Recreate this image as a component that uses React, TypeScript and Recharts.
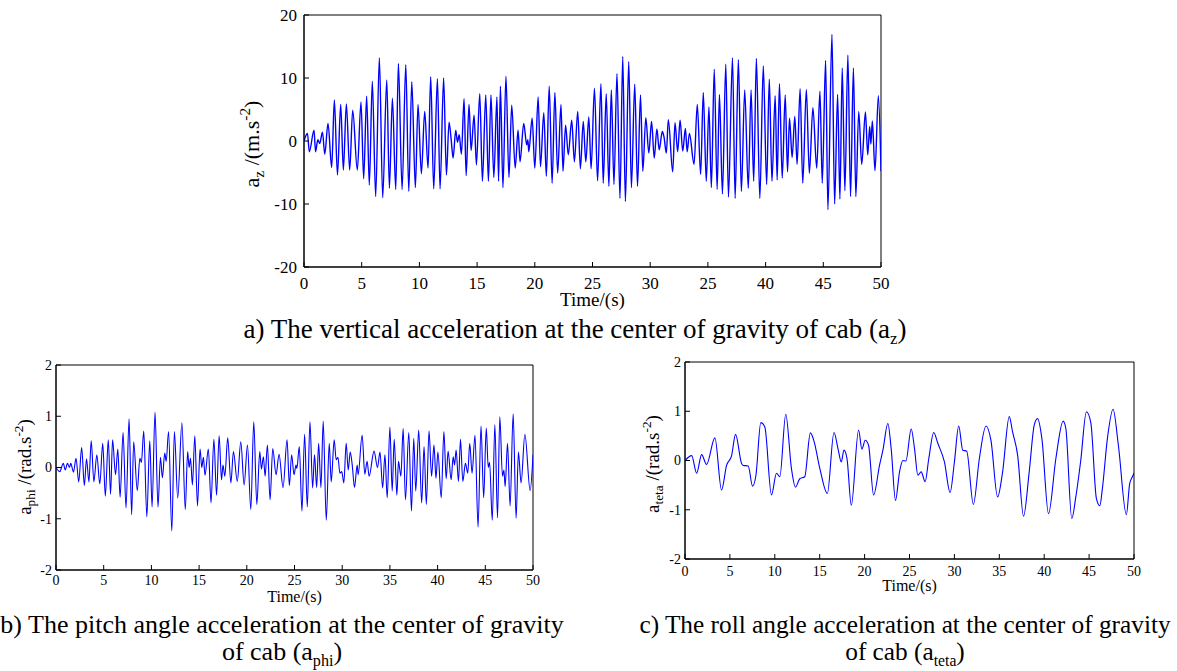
import React from 'react';
import { LineChart, Line, XAxis, YAxis, ReferenceArea } from 'recharts';

const FONT = '"Liberation Serif", "Times New Roman", serif';
// generic family for the svg text of the axes
const SVG_FONT = 'serif';

// time axis, same for the three plots
const timeTicks = [0, 5, 10, 15, 20, 25, 30, 35, 40, 45, 50];
// the original figure prints "25" where 35 should be on the top plot
const azTickLabels = ['0', '5', '10', '15', '20', '25', '30', '25', '40', '45', '50'];
const angTickLabels = ['0', '5', '10', '15', '20', '25', '30', '35', '40', '45', '50'];

const azTicksY = [-20, -10, 0, 10, 20];
const angTicksY = [-2, -1, 0, 1, 2];

// vertical acceleration a_z (m/s2), peaks and troughs
const azSamples: [number, number][] = [
  [0, 0], [0.3, 1.2], [0.46, -1.7], [0.87, 1.7], [1.0, -1.7], [1.2, 0.2], [1.36, -0.4], [1.6, 1.4], [1.8, -2.1],
  [2.08, 2.8], [2.4, -4.2], [2.63, 6.5], [2.9, -5.4], [3.18, 5.8], [3.41, -4.6], [3.67, 5.9], [3.96, -4.6],
  [4.22, 4.9], [4.62, -4.6], [4.94, 6.2], [5.17, -6.0], [5.43, 7.1], [5.66, -7.0], [5.92, 9.5], [6.21, -8.8],
  [6.53, 13.2], [6.82, -9.0], [7.17, 9.7], [7.4, -7.5], [7.66, 6.8], [7.95, -7.7], [8.18, 12.3], [8.5, -7.7],
  [8.82, 12.1], [9.08, -8.0], [9.34, 9.4], [9.65, -7.4], [9.88, 5.8], [10.17, -5.2], [10.46, 4.7], [10.75, -4.3],
  [10.98, 10.2], [11.24, -7.6], [11.56, 9.9], [11.79, -7.6], [12.1, 10.0], [12.34, -5.4], [12.57, 3.0], [12.75, 0.3],
  [12.92, -2.7], [13.15, 1.7], [13.3, -0.2], [13.45, 1.0], [13.64, -2.1], [13.87, 6.7], [14.05, -5.5], [14.3, 5.8],
  [14.48, -1.5], [14.74, 4.1], [14.94, -3.8], [15.23, 7.5], [15.46, -6.4], [15.75, 7.3], [15.98, -6.4], [16.2, 7.3],
  [16.45, -5.8], [16.72, 7.0], [16.86, -6.4], [17.02, 8.7], [17.24, -7.4], [17.5, 10.3], [17.76, -5.8], [18.0, 5.7],
  [18.3, -4.3], [18.55, 1.7], [18.72, -3.3], [19.04, 2.8], [19.3, -0.6], [19.4, 0.2], [19.48, -1.7], [19.77, 3.6],
  [20.0, -4.3], [20.29, 7.0], [20.49, -4.1], [20.78, 4.5], [21.0, -5.6], [21.25, 8.7], [21.5, -6.7], [21.74, 7.7],
  [21.98, -5.1], [22.27, 5.8], [22.44, -4.8], [22.67, 2.5], [22.9, -2.2], [23.2, 3.3], [23.43, -3.3], [23.72, 4.7],
  [23.95, -4.4], [24.2, 3.1], [24.42, -3.3], [24.68, 3.8], [24.88, -4.4], [25.17, 8.4], [25.44, -6.3], [25.73, 9.1],
  [25.93, -6.7], [26.19, 7.5], [26.42, -7.2], [26.63, 8.1], [26.86, -6.9], [27.12, 10.7], [27.38, -9.1], [27.62, 13.4],
  [27.85, -9.6], [28.14, 12.6], [28.37, -7.4], [28.66, 9.0], [28.9, -7.2], [29.16, 7.3], [29.36, -4.8], [29.62, 3.7],
  [29.88, -1.9], [30.12, 3.1], [30.35, -2.7], [30.58, 1.9], [30.78, -1.4], [31.05, 1.5], [31.2, 0.6], [31.4, -1.9],
  [31.57, 3.4], [31.95, -4.9], [32.15, 2.9], [32.38, -1.7], [32.59, 3.3], [32.82, -1.6], [33.05, 2.0], [33.2, -1.7],
  [33.4, 1.2], [33.8, -3.7], [34.08, 5.8], [34.37, -5.3], [34.6, 7.7], [34.86, -6.4], [35.09, 5.4], [35.3, -7.4],
  [35.55, 11.4], [35.8, -7.7], [36.0, 7.4], [36.26, -8.4], [36.55, 12.2], [36.78, -8.9], [37.13, 13.2], [37.36, -9.1],
  [37.64, 12.9], [37.9, -8.0], [38.19, 8.1], [38.5, -7.5], [38.74, 8.1], [38.97, -6.4], [39.2, 13.1], [39.5, -9.1],
  [39.8, 11.9], [40.09, -6.9], [40.32, 9.8], [40.55, -6.4], [40.83, 7.2], [41.0, -6.2], [41.2, 9.1], [41.44, -5.9],
  [41.7, 7.3], [41.9, -4.9], [42.07, 3.6], [42.3, -2.6], [42.53, 3.9], [42.73, -3.7], [42.99, 8.3], [43.22, -6.7],
  [43.53, 8.2], [43.79, -5.1], [44.1, 5.3], [44.43, -4.3], [44.71, 7.9], [44.91, -6.7], [45.2, 12.8], [45.4, -10.9],
  [45.75, 16.9], [45.98, -10.0], [46.24, 7.4], [46.44, -9.2], [46.64, 11.6], [46.87, -7.9], [47.13, 13.6], [47.36, -8.8],
  [47.61, 11.6], [47.82, -8.8], [48.07, 4.7], [48.33, -3.7], [48.65, 4.6], [48.85, -2.2], [49.02, 2.3], [49.12, -0.5],
  [49.25, 3.2], [49.48, -4.7], [49.77, 7.2], [50, -4.8],
];

// pitch angle acceleration a_phi (rad/s2)
const phiSamples: [number, number][] = [
  [0, 0], [0.4, -0.08], [0.76, 0.08], [0.97, -0.05], [1.2, 0.08], [1.41, 0], [1.55, 0.08], [1.83, -0.09],
  [2.1, 0.18], [2.38, -0.28], [2.69, 0.39], [2.97, -0.35], [3.2, 0.17], [3.45, -0.28], [3.69, 0.52], [3.97, -0.28],
  [4.28, 0.25], [4.59, -0.32], [4.9, 0.47], [5.17, -0.56], [5.48, 0.54], [5.72, -0.52], [5.93, 0.54], [6.24, -0.14],
  [6.48, 0.36], [6.72, -0.58], [7.03, 0.68], [7.34, -0.79], [7.66, 0.95], [7.93, -0.92], [8.14, 0.5], [8.52, -0.45],
  [8.79, 0.18], [8.95, 0.1], [9.2, 0.71], [9.52, -0.96], [9.83, 0.52], [10.07, -0.77], [10.38, 1.08], [10.69, -0.77],
  [10.95, 0.2], [11.15, -0.2], [11.4, 0.28], [11.55, 0.12], [11.8, 0.7], [12.14, -1.24], [12.41, 0.7], [12.76, -0.6],
  [13.2, 0.87], [13.55, -0.82], [13.8, 0.31], [13.95, 0], [14.1, 0.18], [14.3, -0.34], [14.55, 0.62], [14.83, -0.75],
  [15.1, 0.36], [15.28, 0], [15.45, 0.2], [15.62, -0.15], [15.97, 0.36], [16.25, -0.69], [16.55, 0.55], [16.83, -0.54],
  [17.1, 0.62], [17.35, -0.24], [17.5, 0.05], [17.7, -0.17], [18.0, 0.58], [18.33, -0.3], [18.6, 0.31], [19.0, -0.27],
  [19.37, 0.5], [19.72, -0.34], [20.07, 0.44], [20.42, -0.82], [20.73, 0.89], [21.05, -0.72], [21.36, 0.31], [21.53, -0.03],
  [21.74, 0.21], [21.92, -0.17], [22.16, 0.44], [22.44, -0.63], [22.72, 0.37], [23.07, -0.14], [23.38, 0.26], [23.8, -0.39],
  [24.22, 0.54], [24.46, -0.35], [24.7, 0.25], [24.95, -0.14], [25.16, 0.05], [25.25, -0.02], [25.5, 0.41], [25.78, -0.85],
  [26.06, 0.65], [26.34, -0.77], [26.62, 0.89], [26.9, -0.4], [27.1, 0.25], [27.32, -0.39], [27.53, 0.47], [27.77, -0.39],
  [28.01, 0.9], [28.33, -1.03], [28.64, 0.47], [28.85, -0.28], [29.16, 0.54], [29.37, 0.15], [29.55, 0.2], [29.76, -0.11],
  [29.95, -0.08], [30.17, -0.3], [30.42, 0.47], [30.63, -0.05], [30.84, 0.3], [31.05, 0.05], [31.29, -0.39], [31.57, 0.05],
  [31.67, -0.14], [32.09, 0.63], [32.37, -0.13], [32.61, 0.12], [32.82, -0.17], [33.34, 0.32], [33.7, 0], [33.96, 0.3],
  [34.24, -0.4], [34.48, 0.25], [34.72, -0.59], [35.0, 0.79], [35.24, -0.46], [35.45, 0.55], [35.73, -0.54], [35.9, 0.12],
  [36.15, -0.17], [36.39, 0.76], [36.63, -0.63], [36.98, 0.68], [37.26, -0.85], [37.5, 0.57], [37.71, -0.46], [38.02, 0.73],
  [38.33, -0.69], [38.58, 0.41], [38.82, -0.72], [39.1, 0.71], [39.37, -0.17], [39.62, 0.44], [39.83, -0.21], [40.03, 0.3],
  [40.38, -0.59], [40.66, 0.7], [40.9, -0.22], [41.1, 0.32], [41.42, -0.24], [41.63, 0.21], [41.78, 0.05], [41.94, 0.34],
  [42.19, -0.27], [42.4, 0.55], [42.64, -0.27], [42.92, 0.08], [43.16, -0.11], [43.37, 0.47], [43.61, -0.11], [43.92, 0.63],
  [44.24, -1.16], [44.55, 0.81], [44.83, -0.59], [45.1, 0.77], [45.31, 0], [45.45, 0.1], [45.73, -1.03], [46.0, 0.84],
  [46.28, -0.98], [46.52, 0.99], [46.8, -0.17], [46.95, -0.05], [47.08, -0.37], [47.33, 0.47], [47.6, -0.75], [47.92, 1.05],
  [48.23, -0.99], [48.47, 0.3], [48.75, -0.3], [49.15, 0.65], [49.7, -0.45], [50, 0.25],
];

// roll angle acceleration a_teta (rad/s2)
const tetaSamples: [number, number][] = [
  [0, 0], [0.74, 0.1], [1.3, -0.26], [1.85, 0.12], [2.4, -0.08], [3.33, 0.46], [4.07, -0.6], [4.63, -0.1],
  [5.19, 0.1], [5.63, 0.53], [6.3, -0.06], [6.48, -0.1], [7.04, -0.11], [7.52, -0.52], [7.9, -0.3], [8.44, 0.77],
  [8.89, 0.68], [9.63, -0.7], [10.19, -0.26], [10.56, -0.33], [11.22, 0.94], [11.85, -0.16], [12.3, -0.54], [12.78, -0.37],
  [13.33, -0.33], [13.96, 0.56], [14.37, 0.39], [15.0, -0.15], [15.85, -0.67], [16.59, 0.57], [17.07, 0.21], [17.4, -0.03],
  [17.7, 0.21], [18.04, 0.04], [18.52, -0.91], [19.33, 0.62], [19.7, 0.23], [20.07, 0.41], [20.44, 0.31], [21.0, -0.7],
  [21.67, -0.09], [22.04, 0.21], [22.59, 0.75], [22.96, 0.24], [23.44, -0.81], [23.89, -0.23], [24.26, 0], [24.6, -0.01],
  [25.19, 0.64], [25.56, 0.24], [25.93, -0.3], [26.3, -0.23], [26.74, -0.43], [27.15, 0.04], [27.7, 0.57], [28.15, 0.35],
  [28.89, -0.03], [29.52, -0.65], [30.0, -0.03], [30.48, 0.7], [30.93, 0.21], [31.37, 0.19], [32.11, -0.89], [32.78, 0.04],
  [33.52, 0.7], [34.07, 0.41], [34.81, -0.74], [35.37, -0.23], [36.11, 0.89], [36.48, 0.58], [37.04, 0.11], [37.7, -1.13],
  [38.33, -0.23], [38.89, 0.72], [39.26, 0.85], [39.74, 0.45], [40.48, -1.08], [41.3, 0.04], [42.11, 0.8], [42.41, 0.65],
  [43.07, -1.18], [43.52, -0.74], [44.07, 0], [44.7, 0.99], [45.19, 0.77], [45.81, -0.77], [46.19, -0.92], [46.48, -0.57],
  [47.04, 0.45], [47.67, 1.04], [48.26, 0.31], [49.15, -1.1], [49.52, -0.47], [49.9, -0.3], [50, -0.25],
];

const toRows = (samples: [number, number][]) => samples.map(([t, v]) => ({ t, v }));

interface TickProps {
  x?: number;
  y?: number;
  payload?: { value: number };
  size: number;
  anchor: 'middle' | 'end';
  dy: string;
  format: (v: number) => string;
  family: string;
}

// tick label drawn by hand so that the serif font is really used
const SerifTick: React.FC<TickProps> = ({ x = 0, y = 0, payload, size, anchor, dy, format, family }) => (
  <text x={x} y={y} dy={dy} textAnchor={anchor} fill="#000" fontSize={size} fontFamily={family}>
    {format(payload ? payload.value : 0)}
  </text>
);

interface PanelProps {
  samples: [number, number][];
  left: number; // plot box in page pixels
  top: number;
  width: number;
  height: number;
  yDomain: [number, number];
  yTicks: number[];
  xLabels: string[];
  tickFont: number;
  labelFont: number;
  xTickGap: number;
  yTickGap: number;
  labelOffset: number;
  strokeWidth: number;
}

const axisStyle = { stroke: '#000', strokeWidth: 1 };

const Panel: React.FC<PanelProps> = ({
  samples, left, top, width, height, yDomain, yTicks, xLabels,
  tickFont, labelFont, xTickGap, yTickGap, labelOffset, strokeWidth,
}) => {
  const padL = 60, padT = 10, padR = 12, padB = 50, xh = 45;
  const xFormat = (t: number) => xLabels[timeTicks.indexOf(t)];
  return (
    <div style={{ position: 'absolute', left: left - padL, top: top - padT }}>
      <LineChart
        width={width + padL + padR}
        height={height + padT + padB}
        data={toRows(samples)}
        margin={{ top: padT, right: padR, left: 0, bottom: padB - xh }}
      >
        <XAxis
          dataKey="t" type="number" domain={[0, 50]} ticks={timeTicks} interval={0} allowDataOverflow
          tickSize={-5} tickMargin={xTickGap} height={xh}
          axisLine={axisStyle} tickLine={axisStyle}
          tick={<SerifTick size={tickFont} anchor="middle" dy="0.71em" format={xFormat} family={SVG_FONT} />}
          label={{
            value: 'Time/(s)', position: 'insideTop', offset: labelOffset, fill: '#000',
            fontSize: labelFont, fontFamily: SVG_FONT,
          }}
        />
        <YAxis
          type="number" domain={yDomain} ticks={yTicks} interval={0} allowDataOverflow
          tickSize={-5} tickMargin={yTickGap} width={padL}
          axisLine={axisStyle} tickLine={axisStyle}
          tick={<SerifTick size={tickFont} anchor="end" dy="0.35em" format={(v: number) => String(v)} family={SVG_FONT} />}
        />
        {/* closes the box on the top and right sides */}
        <ReferenceArea
          x1={0} x2={50} y1={yDomain[0]} y2={yDomain[1]}
          fill="none" fillOpacity={0} stroke="#000" strokeWidth={1} ifOverflow="visible"
        />
        <Line
          type="monotone" dataKey="v" stroke="#0000ff" strokeWidth={strokeWidth}
          dot={false} activeDot={false} isAnimationActive={false}
        />
      </LineChart>
    </div>
  );
};

// rotated y-axis title, centred on (x, y)
const YTitle: React.FC<{ x: number; y: number; size: number; sub: string; unit: string }> = ({ x, y, size, sub, unit }) => (
  <div
    style={{
      position: 'absolute', left: x, top: y, transform: 'translate(-50%, -50%) rotate(-90deg)',
      whiteSpace: 'nowrap', fontSize: size, fontFamily: FONT, lineHeight: 1,
    }}
  >
    a<sub style={{ fontSize: '0.7em' }}>{sub}</sub> /({unit}.s<sup style={{ fontSize: '0.7em' }}>-2</sup>)
  </div>
);

const Caption: React.FC<{ x: number; y: number; size: number; children: React.ReactNode }> = ({ x, y, size, children }) => (
  <div
    style={{
      position: 'absolute', left: x, top: y, transform: 'translateX(-50%)', textAlign: 'center',
      whiteSpace: 'nowrap', fontSize: size, lineHeight: '27px', fontFamily: FONT,
    }}
  >
    {children}
  </div>
);

const subStyle = { fontSize: '0.62em' };

export default function App() {
  return (
    <div style={{ position: 'relative', width: 1177, height: 671, background: '#fff', overflow: 'hidden', fontFamily: FONT }}>
      <style>{'body{margin:0}'}</style>

      <Panel
        samples={azSamples} left={304} top={15} width={577} height={252}
        yDomain={[-20, 20]} yTicks={azTicksY} xLabels={azTickLabels}
        tickFont={17} labelFont={19} xTickGap={15} yTickGap={12} labelOffset={26} strokeWidth={1.4}
      />
      <YTitle x={252} y={144} size={22} sub="z" unit="m" />
      <Caption x={575} y={316} size={27}>
        a) The vertical acceleration at the center of gravity of cab (a<sub style={subStyle}>z</sub>)
      </Caption>

      <Panel
        samples={phiSamples} left={56} top={365} width={477} height={205}
        yDomain={[-2, 2]} yTicks={angTicksY} xLabels={angTickLabels}
        tickFont={14} labelFont={16} xTickGap={10} yTickGap={9} labelOffset={21} strokeWidth={1.1}
      />
      <YTitle x={25} y={467} size={19} sub="phi" unit="rad" />
      <Caption x={282} y={611} size={26}>
        b) The pitch angle acceleration at the center of gravity
        <br />
        of cab (a<sub style={subStyle}>phi</sub>)
      </Caption>

      <Panel
        samples={tetaSamples} left={685} top={362} width={449} height={197}
        yDomain={[-2, 2]} yTicks={angTicksY} xLabels={angTickLabels}
        tickFont={14} labelFont={16} xTickGap={12} yTickGap={9} labelOffset={21} strokeWidth={1.1}
      />
      <YTitle x={653} y={464} size={19} sub="teta" unit="rad" />
      <Caption x={905} y={611} size={25.3}>
        c) The roll angle acceleration at the center of gravity
        <br />
        of cab (a<sub style={subStyle}>teta</sub>)
      </Caption>
    </div>
  );
}
